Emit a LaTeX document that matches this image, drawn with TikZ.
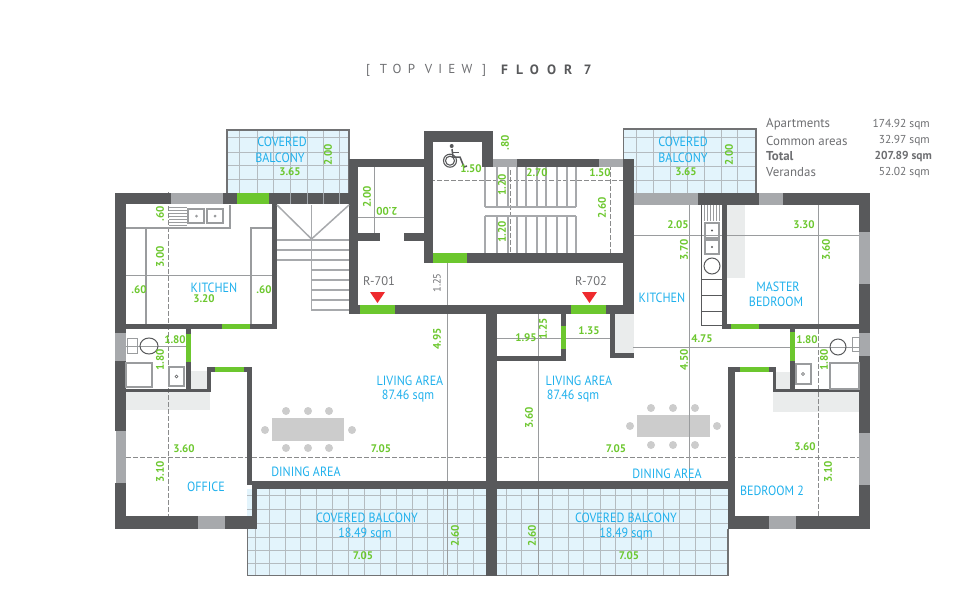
\documentclass[tikz,border=0pt]{standalone}
\usepackage{fontspec}
\usepackage{graphicx}
\setmainfont{PT Sans}
\newfontfamily\titlefont[LetterSpace=48]{PT Sans}
\newfontfamily\titleboldfont[LetterSpace=60]{PT Sans}
\definecolor{wallc}{HTML}{58595B}
\definecolor{winc}{HTML}{A7A9AC}
\definecolor{doorc}{HTML}{6CC72E}
\definecolor{balc}{HTML}{E3F4FC}
\definecolor{gridc}{HTML}{B4BBC0}
\definecolor{linec}{HTML}{9A9C9E}
\definecolor{softc}{HTML}{EAECEC}
\definecolor{tablec}{HTML}{CCCCCC}
\definecolor{bluec}{HTML}{1FB0EC}
\definecolor{textc}{HTML}{6D6E71}
\definecolor{redc}{HTML}{EE2A2E}
\newcounter{lab}
\newcommand{\nm}[3]{\stepcounter{lab}\node[namelab] (n\thelab) at (#1,#2) {\scalebox{.9}[1]{#3}};}
\newcommand{\dm}[3]{\stepcounter{lab}\node[dimlab] (n\thelab) at (#1,#2) {#3};}
\newcommand{\dr}[3]{\stepcounter{lab}\node[dimlab,rotate=90] (n\thelab) at (#1,#2) {#3};}
\tikzset{
 x=1pt,y=-1pt,
 wall/.style={fill=wallc},
 win/.style={fill=winc},
 door/.style={fill=doorc},
 soft/.style={fill=softc},
 balfill/.style={fill=balc},
 gridl/.style={draw=gridc,line width=1pt},
 edgel/.style={draw=wallc!85!white,line width=1.3pt},
 dimline/.style={draw=linec,line width=.8pt},
 dashline/.style={draw=wallc!70!white,line width=.7pt,dash pattern=on 5pt off 2pt},
 fixt/.style={draw=linec,line width=1.1pt},
 stair/.style={draw=winc,line width=1.5pt},
 namelab/.style={inner sep=0,text=bluec,font=\fontsize{13.4}{15}\selectfont,align=center},
 dimlab/.style={inner sep=0,text=doorc,font=\fontsize{11}{13}\selectfont\bfseries},
 leg/.style={inner sep=0,text=textc,font=\fontsize{11.5}{13}\selectfont},
 legname/.style={inner sep=0,text=textc,font=\fontsize{12.9}{14}\selectfont},
 chair/.style={fill=tablec},
}
\begin{document}
\begin{tikzpicture}
\useasboundingbox (0,0) rectangle (977,597);
% balconies
\fill[balfill] (227,130) rectangle (349,193);
\fill[balfill] (623,129) rectangle (756,194);
\fill[balfill] (247,489) rectangle (486,576);
\fill[balfill] (497,489) rectangle (728,576);
\foreach \x in {239,257,273,290,307,323,339} \draw[gridl] (\x,130) -- (\x,204);
\foreach \y in {137,152,165,179} \draw[gridl] (227,\y) -- (349,\y);
\foreach \x in {636,653,670,687,704,721,737} \draw[gridl] (\x,129) -- (\x,194);
\foreach \y in {137,152,166,180} \draw[gridl] (623,\y) -- (756,\y);
\foreach \x in {255,269,285,300,316,332,348,364,380,396,412,427,443,457,473} \draw[gridl] (\x,489) -- (\x,576);
\foreach \x in {506,521,538,552,568,583,600,615,631,647,663,679,695,710} \draw[gridl] (\x,489) -- (\x,576);
\foreach \y in {495,509,523,537,550,563} {\draw[gridl] (247,\y) -- (486,\y); \draw[gridl] (497,\y) -- (728,\y);}
\draw[edgel] (227,193) -- (227,130) -- (349,130) -- (349,193);
\draw[edgel] (623.5,159) -- (623.5,129) -- (756,129) -- (756,194);
\draw[edgel] (247.5,529) -- (247.5,575.5) -- (486,575.5);
\draw[edgel] (497,575.5) -- (728,575.5) -- (728,529);
% soft areas
\fill[soft] (191,371) rectangle (207,389);
\fill[soft] (126,392) rectangle (210,410);
\fill[soft] (775,372) rectangle (790,389);
\fill[soft] (773,392) rectangle (859,412);
\fill[soft] (727,205) rectangle (745,278);
\fill[soft] (615,314) rectangle (634,353);
% tables
\fill[tablec] (272,418) rectangle (344,441);
\foreach \p in {(286,411),(308,411),(329,411),(286,448),(308,448),(329,448),(265,430),(352,430)} \fill[chair] \p circle (4);
\fill[tablec] (637,415) rectangle (710,437);
\foreach \p in {(651,408),(673,408),(695,408),(651,445),(673,445),(695,445),(630,426),(717,426)} \fill[chair] \p circle (4);
% dimension lines
\draw[dashline] (168.5,192) -- (168.5,518);
\draw[dimline] (126,275) -- (272,275);
\draw[dimline] (126,346.5) -- (186,346.5);
\draw[dashline] (126,457.5) -- (247,457.5);
\draw[dashline] (252,457.5) -- (486,457.5);
\draw[dashline] (497,457.5) -- (728,457.5);
\draw[dashline] (731,457.5) -- (865,457.5);
\draw[dimline] (447,263) -- (447,576);
\draw[dimline] (538.5,314) -- (538.5,576);
\draw[dimline] (497,338) -- (610,338);
\draw[dimline] (633,347) -- (868,347);
\draw[dimline] (689,205) -- (689,481);
\draw[dimline] (634,235) -- (868,235);
\draw[dimline] (818,200) -- (818,329);
\draw[dashline] (818,329) -- (818,525);
\draw[dimline] (374.5,162) -- (374.5,240);
\draw[dimline] (354,217) -- (429,217);
\draw[dashline] (430,180) -- (630,180);
\draw[dashline] (510,170) -- (510,258);
\draw[dashline] (610,165) -- (610,258);
% walls
\fill[wall] (115,193) rectangle (170.5,204);
\fill[win] (170.5,193) rectangle (223,204);
\fill[wall] (223,193) rectangle (237,204);
\fill[door] (237,193) rectangle (269,204);
\fill[wall] (269,193) rectangle (349,204);
\foreach \x in {290,307,323,339} \draw[draw=gridc!80!wallc,line width=.7pt] (\x,193) -- (\x,204);
\fill[wall] (115,204) rectangle (126,333);
\fill[win] (115,333) rectangle (126,361);
\fill[wall] (115,361) rectangle (126,431);
\fill[win] (116,431) rectangle (126,483);
\fill[wall] (115,483) rectangle (126,529);
\fill[wall] (126,516) rectangle (198,529);
\fill[win] (198,516) rectangle (225,529);
\fill[wall] (225,516) rectangle (257,529);
\fill[wall] (272,204) rectangle (277,329);
\fill[wall] (126,324) rectangle (272,329);
\fill[door] (222,324) rectangle (250,329);
\fill[wall] (186,329) rectangle (191,389);
\fill[door] (186,334) rectangle (191,362);
\fill[wall] (126,389) rectangle (210,392);
\fill[wall] (207,367) rectangle (210.5,392);
\fill[wall] (207,367) rectangle (252,372);
\fill[door] (215,367) rectangle (244,372);
\fill[wall] (247,367) rectangle (252,485);
\fill[wall] (252,481) rectangle (257,529);
\fill[wall] (252,481) rectangle (728,489);
\fill[wall] (486,314) rectangle (497,576);
\fill[wall] (728,367) rectangle (735,529);
\fill[wall] (728,367) rectangle (776,372);
\fill[door] (740,367) rectangle (769,372);
\fill[wall] (773,367) rectangle (776,392);
\fill[wall] (773,389) rectangle (859,392);
\fill[wall] (790,329) rectangle (795,389);
\fill[door] (790,332) rectangle (795,361);
\fill[wall] (735,516) rectangle (769,529);
\fill[win] (769,516) rectangle (796,529);
\fill[wall] (796,516) rectangle (870,529);
% right outer wall
\fill[wall] (859,193) rectangle (870,529);
\fill[win] (859,232) rectangle (870,284);
\fill[win] (859,333) rectangle (870,356);
\fill[win] (859,433) rectangle (870,485);
\fill[win] (634,193) rectangle (698,205);
\fill[wall] (698,193) rectangle (759,205);
\fill[win] (759,193) rectangle (783,205);
\fill[wall] (783,193) rectangle (859,205);
\fill[wall] (722,205) rectangle (727,329);
\fill[wall] (727,324) rectangle (859,329);
\fill[door] (731,324) rectangle (759,329);
% core
\fill[wall] (349,159) rectangle (358,314);
\fill[wall] (358,159) rectangle (424,167);
\fill[wall] (424,131) rectangle (433,263);
\fill[wall] (433,131) rectangle (493,142);
\fill[wall] (482,142) rectangle (493,167);
\fill[win] (493,159) rectangle (517,167);
\fill[wall] (517,159) rectangle (599,167);
\fill[win] (599,159) rectangle (623,167);
\fill[wall] (623,159) rectangle (634,314);
\fill[wall] (433,253) rectangle (623,263);
\fill[door] (433,253) rectangle (467,263);
\fill[wall] (358,305) rectangle (623,314);
\fill[door] (360,305) rectangle (395,314);
\fill[door] (571,305) rectangle (606,314);
\fill[wall] (358,233) rectangle (380,241);
\fill[wall] (404,233) rectangle (424,241);
\fill[wall] (497,356) rectangle (566,361);
\fill[wall] (561,314) rectangle (566,361);
\fill[door] (561,326) rectangle (566,349);
\fill[wall] (610,314) rectangle (615,358);
\fill[wall] (610,353) rectangle (634,358);
% left stairs
\draw[stair] (277,205) -- (311.5,239) -- (349,205);
\draw[stair] (311.5,205) -- (311.5,310) -- (349,310);
\foreach \y in {240,250,260} \draw[stair] (277,\y) -- (349,\y);
\foreach \y in {270,280,290,300} \draw[stair] (311.5,\y) -- (349,\y);
% core stairs
\foreach \x in {485,497,508,517,526,537,546,557,567,576} {\draw[stair] (\x,167) -- (\x,207); \draw[stair] (\x,216) -- (\x,253);}
\draw[draw=winc,line width=2pt] (485,207) -- (576,207);
\draw[draw=winc,line width=2pt] (485,216) -- (576,216);
% left kitchen
\draw[fixt] (168,228) -- (230,228) -- (230,205);
\draw[fixt] (126,228) -- (168,228);
\draw[fixt] (146,228) -- (146,324);
\draw[fixt] (251,324) -- (251,228) -- (272,228);
\draw[fixt] (188,209) rectangle (204,223);
\draw[fixt] (207,209) rectangle (223,223);
\fill[linec] (196.5,216) circle (1.5) (215,216) circle (1.5);
\foreach \y in {207,210,213,216,219,222,225} \draw[draw=linec,line width=.6pt] (169,\y) -- (187,\y);
% right kitchen
\draw[draw=wallc,line width=1pt] (701.5,205) -- (701.5,325) -- (722,325);
\draw[fixt] (705,223) rectangle (719,238);
\draw[fixt] (705,240) rectangle (719,254);
\fill[wallc] (712,230.5) circle (1.2) (712,247) circle (1.2);
\draw[draw=wallc,line width=1pt] (712,266) circle (8);
\foreach \y in {279,295,311} \draw[draw=wallc,line width=.8pt] (701.5,\y) -- (722,\y);
\foreach \x in {704,707,710,713,716,719} \draw[draw=linec,line width=.6pt] (\x,205) -- (\x,221);
% left bath
\draw[draw=linec,line width=1pt] (127,338) rectangle (137,353);
\draw[draw=wallc,line width=1pt] (149,346) ellipse (9 and 8);
\draw[fixt] (126,363) rectangle (152,387);
\draw[fixt] (169,367) rectangle (184,386);
\draw[draw=wallc,line width=.6pt] (176.5,376.5) circle (1.5);
% right bath
\draw[draw=linec,line width=1pt] (852,337) rectangle (859,351);
\draw[draw=wallc,line width=1pt] (838,347) ellipse (8 and 8);
\draw[fixt] (830,363) rectangle (859,389);
\draw[fixt] (796,364) rectangle (811,384);
\draw[draw=wallc,line width=.6pt] (803,374) circle (1.5);
% wheelchair
\fill[wallc] (451.7,146) circle (2);
\draw[draw=wallc,line width=1.1pt] (450,160.7) circle (6.5);
\draw[draw=wallc,line width=1.1pt] (450,160.7) circle (4.5);
\draw[draw=wallc,line width=1.5pt] (452,149) -- (453,157) -- (460,157) -- (464,167) -- (467,166);
\draw[draw=wallc,line width=1.2pt] (452.5,152.5) -- (459,152.5);
% red markers
\fill[redc] (370,292) -- (385,292) -- (377.5,303) -- cycle;
\fill[redc] (582,292) -- (597,292) -- (589.5,303) -- cycle;
\node[inner sep=0,text=textc,font=\fontsize{12.5}{14}\selectfont] (r1) at (379,281) {R-701};
\node[inner sep=0,text=textc,font=\fontsize{12.5}{14}\selectfont] (r2) at (591,281) {R-702};
% title
\node[anchor=west,inner sep=0,text=textc,font=\titlefont\fontsize{13}{15}\selectfont] (t1) at (366,70) {[ TOP VIEW ]};
\node[anchor=west,inner sep=0,text=wallc,font=\titleboldfont\fontsize{13.5}{15}\selectfont\bfseries] (t2) at (501,70) {FLOOR 7};
% legend
\node[legname,anchor=west] (l1) at (766,124.5) {Apartments};
\node[legname,anchor=west] (l2) at (766,140.5) {Common areas};
\node[legname,anchor=west,font=\fontsize{12.9}{14}\selectfont\bfseries] (l3) at (766,156.5) {Total};
\node[legname,anchor=west] (l4) at (766,172.5) {Verandas};
\node[leg,anchor=east] (v1) at (930,124.5) {174.92 sqm};
\node[leg,anchor=east] (v2) at (930,140.5) {32.97 sqm};
\node[leg,anchor=east,font=\fontsize{11.5}{13}\selectfont\bfseries] (v3) at (932,156.5) {207.89 sqm};
\node[leg,anchor=east] (v4) at (930,172.5) {52.02 sqm};
% room labels
\nm{282}{142}{COVERED}\nm{280}{158}{BALCONY}
\nm{683}{142}{COVERED}\nm{683}{158}{BALCONY}
\nm{214}{288}{KITCHEN}\nm{662}{298}{KITCHEN}
\nm{778}{287}{MASTER}\nm{776}{302}{BEDROOM}
\nm{410}{381}{LIVING AREA}\nm{408}{396}{87.46 sqm}
\nm{579}{381}{LIVING AREA}\nm{573}{396}{87.46 sqm}
\nm{306}{472}{DINING AREA}\nm{667}{474}{DINING AREA}
\nm{206}{487}{OFFICE}\nm{772}{491}{BEDROOM 2}
\nm{367}{518}{COVERED BALCONY}\nm{365}{534}{18.49 sqm}
\nm{626}{518}{COVERED BALCONY}\nm{626}{534}{18.49 sqm}
% dimensions
\dm{290}{172}{3.65}\dr{328}{155}{2.00}
\dr{160}{214}{.60}\dr{160}{257}{3.00}\dm{139}{290}{.60}\dm{204}{299}{3.20}\dm{264}{290}{.60}
\dr{367}{197}{2.00}
\stepcounter{lab}\node[dimlab,rotate=180] (n\thelab) at (387,211) {2.00};
\dr{505}{143}{.80}\dm{471}{169}{1.50}\dr{502}{185}{1.20}\dm{537}{173}{2.70}\dm{600}{173}{1.50}\dr{602}{208}{2.60}\dr{502}{232}{1.20}
\stepcounter{lab}\node[dimlab,rotate=90,text=textc,font=\fontsize{10.5}{12}\selectfont] (n\thelab) at (437,283) {1.25};
\dr{437}{339}{4.95}\dm{589}{331}{1.35}\dm{526}{338}{1.95}\dr{543}{329}{1.25}
\dr{529}{418}{3.60}\dm{616}{449}{7.05}\dm{381}{449}{7.05}
\dm{184}{449}{3.60}\dr{160}{472}{3.10}\dm{175}{340}{1.80}\dr{160}{360}{1.80}
\dm{363}{556}{7.05}\dr{455}{536}{2.60}\dr{532}{536}{2.60}\dm{629}{556}{7.05}
\dm{807}{340}{1.80}\dr{824}{360}{1.80}\dm{702}{339}{4.75}\dr{684}{360}{4.50}
\dm{805}{447}{3.60}\dr{828}{472}{3.10}
\dm{686}{172}{3.65}\dr{729}{155}{2.00}\dm{678}{225}{2.05}\dm{804}{225}{3.30}\dr{684}{250}{3.70}\dr{826}{250}{3.60}
\end{tikzpicture}
\end{document}
